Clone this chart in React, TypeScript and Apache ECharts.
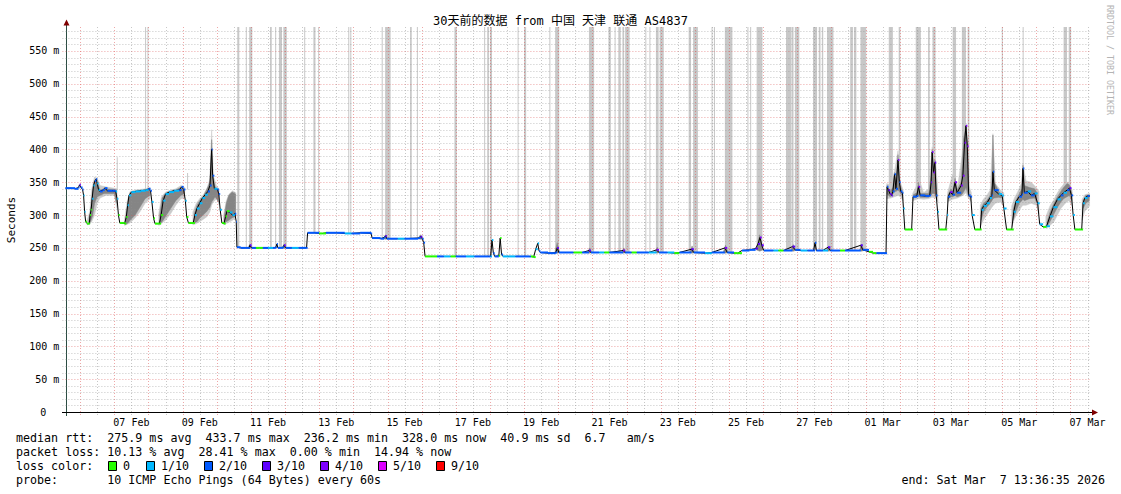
import { useEffect, useRef } from 'react';
import * as echarts from 'echarts';

// time unit: days since 2026-02-05 00:00 (local); graph covers 30 days ending Mar 7 13:36:35
const START = 13.6097 / 24;
const END = START + 30;
const Y_MAX = 586.5;

const titleText = '30天前的数据 from 中国 天津 联通 AS4837';
const yTitle = 'Seconds';
const watermark = 'RRDTOOL / TOBI OETIKER';

const xTickLabels = ['07 Feb', '09 Feb', '11 Feb', '13 Feb', '15 Feb', '17 Feb', '19 Feb', '21 Feb', '23 Feb', '25 Feb', '27 Feb', '01 Mar', '03 Mar', '05 Mar', '07 Mar'];
const xTickDays = [2.5, 4.5, 6.5, 8.5, 10.5, 12.5, 14.5, 16.5, 18.5, 20.5, 22.5, 24.5, 26.5, 28.5, 30.5];

const lossColors = ['#26ff00', '#00b8ff', '#0059ff', '#5e00ff', '#7e00ff', '#dd00ff', '#ff0000'];
const lossLabels = ['0', '1/10', '2/10', '3/10', '4/10', '5/10', '9/10'];

// [day, median rtt (ms), loss colour index]
const medianRtt = [
  [0.57, 341, 2], [0.70, 341, 2], [0.85, 340, 2], [0.95, 342, 2], [0.98, 346, 3], [1.02, 342, 2], [1.07, 339, 2], [1.10, 330, 1], [1.13, 305, 1], [1.16, 290, 0], [1.20, 287, 0], [1.27, 287, 0], [1.29, 300, 0], [1.32, 308, 0], [1.35, 325, 1], [1.39, 345, 1], [1.43, 352, 2], [1.47, 355, 2], [1.50, 348, 1], [1.54, 338, 1], [1.58, 336, 2], [1.66, 338, 2], [1.72, 341, 2], [1.80, 337, 2], [1.95, 337, 2],
  [2.04, 336, 1], [2.08, 325, 1], [2.12, 300, 0], [2.16, 288, 0], [2.30, 287, 0], [2.35, 297, 0], [2.39, 315, 1], [2.43, 330, 1], [2.50, 335, 1], [2.62, 336, 1], [2.78, 337, 1], [2.92, 338, 1], [3.00, 340, 2], [3.06, 337, 2], [3.10, 320, 1], [3.15, 295, 0], [3.19, 287, 0], [3.32, 287, 0], [3.37, 300, 0], [3.43, 322, 1], [3.50, 332, 1], [3.60, 335, 1], [3.75, 337, 1], [3.90, 338, 2], [3.97, 343, 2],
  [4.03, 339, 2], [4.08, 322, 1], [4.12, 297, 0], [4.17, 288, 0], [4.31, 288, 0], [4.36, 300, 1], [4.42, 310, 1], [4.50, 318, 1], [4.58, 326, 1], [4.66, 331, 1], [4.74, 336, 2], [4.80, 345, 2], [4.85, 400, 2], [4.88, 360, 2], [4.93, 340, 1], [5.02, 339, 2], [5.06, 332, 2], [5.10, 308, 1], [5.15, 288, 0], [5.21, 287, 0], [5.26, 298, 0], [5.30, 306, 0], [5.38, 304, 1], [5.46, 300, 1], [5.53, 302, 2], [5.57, 290, 2], [5.59, 251, 2],
  [5.70, 250, 2], [5.85, 250, 2], [5.94, 250, 2], [5.97, 254, 3], [6.02, 250, 2], [6.15, 250, 0], [6.25, 250, 0], [6.35, 250, 2], [6.50, 250, 1], [6.65, 250, 2], [6.73, 251, 2], [6.76, 256, 2], [6.79, 250, 2], [6.94, 251, 2], [6.97, 254, 3], [7.02, 250, 2], [7.20, 250, 1], [7.40, 250, 2], [7.63, 250, 2],
  [7.66, 273, 2], [7.85, 273, 2], [8.00, 272, 0], [8.10, 272, 0], [8.20, 273, 2], [8.50, 273, 2], [8.75, 272, 1], [8.95, 272, 2], [9.20, 273, 2], [9.52, 272, 2],
  [9.55, 265, 2], [9.80, 264, 2], [9.90, 266, 2], [9.94, 268, 3], [9.98, 264, 2], [10.30, 264, 1], [10.50, 264, 2], [10.90, 265, 2], [10.97, 267, 3], [11.02, 264, 2], [11.06, 258, 2],
  [11.10, 237, 0], [11.30, 237, 0], [11.45, 237, 2], [11.65, 237, 1], [11.85, 237, 0], [12.00, 237, 2], [12.30, 237, 1], [12.55, 237, 2], [12.95, 237, 2], [13.02, 237, 1], [13.06, 262, 1], [13.10, 242, 2], [13.14, 237, 2], [13.26, 238, 0], [13.30, 265, 0], [13.34, 240, 2], [13.38, 237, 1], [13.55, 237, 1], [13.75, 237, 2], [14.15, 237, 2], [14.20, 237, 0], [14.28, 236, 0], [14.34, 248, 1], [14.40, 257, 1], [14.44, 245, 2],
  [14.48, 243, 2], [14.70, 242, 2], [14.93, 243, 2], [14.97, 250, 3], [15.02, 243, 2], [15.20, 243, 2], [15.45, 243, 0], [15.55, 243, 0], [15.70, 243, 2], [15.90, 246, 3], [15.96, 243, 2], [16.20, 243, 1], [16.35, 243, 0], [16.50, 243, 2], [16.90, 246, 4], [16.96, 243, 2], [17.15, 243, 0], [17.30, 243, 2], [17.65, 243, 1], [17.88, 247, 4], [17.95, 243, 2], [18.20, 243, 1], [18.40, 242, 0], [18.55, 243, 2], [18.90, 248, 3], [18.97, 243, 2], [19.30, 242, 1], [19.50, 243, 2], [19.88, 250, 4], [19.95, 243, 2], [20.15, 242, 0], [20.25, 242, 0],
  [20.38, 246, 2], [20.60, 247, 2], [20.78, 249, 3], [20.85, 256, 3], [20.91, 266, 4], [20.96, 254, 3], [21.02, 246, 2], [21.30, 246, 1], [21.45, 246, 0], [21.60, 246, 2], [21.86, 252, 3], [21.94, 247, 2], [22.10, 246, 1], [22.30, 246, 2], [22.48, 246, 2], [22.52, 258, 2], [22.56, 246, 2], [22.75, 246, 1], [22.90, 251, 3], [22.97, 246, 2], [23.25, 246, 0], [23.40, 246, 2], [23.86, 254, 3], [23.92, 247, 2], [24.10, 244, 0], [24.22, 242, 0], [24.32, 242, 2], [24.60, 242, 2],
  [24.63, 343, 2], [24.67, 338, 3], [24.72, 332, 4], [24.76, 330, 3], [24.80, 336, 2], [24.85, 362, 2], [24.89, 340, 2], [24.95, 384, 4], [24.99, 350, 2], [25.03, 336, 2], [25.08, 334, 2], [25.11, 310, 1], [25.15, 278, 0], [25.35, 278, 0], [25.39, 328, 2], [25.50, 329, 2], [25.55, 343, 4], [25.60, 330, 2], [25.75, 329, 2], [25.88, 330, 2], [25.92, 350, 3], [25.95, 396, 4], [25.99, 365, 4], [26.03, 380, 3], [26.07, 330, 2], [26.11, 305, 1], [26.15, 278, 0], [26.35, 278, 0],
  [26.39, 300, 1], [26.42, 328, 2], [26.48, 335, 4], [26.55, 331, 2], [26.62, 350, 4], [26.68, 334, 2], [26.80, 345, 4], [26.85, 360, 4], [26.90, 410, 4], [26.94, 436, 4], [26.98, 405, 4], [27.02, 330, 2], [27.08, 328, 2], [27.12, 300, 1], [27.20, 278, 0], [27.36, 278, 0], [27.40, 308, 1], [27.46, 314, 1], [27.55, 318, 1], [27.64, 326, 1], [27.70, 330, 2], [27.73, 366, 2], [27.77, 338, 2], [27.90, 332, 1], [28.00, 330, 1], [28.05, 310, 1], [28.13, 278, 0], [28.28, 278, 0],
  [28.34, 305, 1], [28.40, 320, 1], [28.50, 328, 2], [28.58, 331, 2], [28.61, 371, 2], [28.65, 334, 2], [28.75, 336, 1], [28.85, 330, 2], [28.95, 333, 1], [29.04, 318, 1], [29.10, 286, 1], [29.20, 282, 0], [29.30, 283, 1], [29.40, 298, 1], [29.50, 312, 1], [29.62, 324, 1], [29.72, 330, 2], [29.80, 334, 1], [29.90, 338, 2], [29.97, 341, 3], [30.03, 330, 2], [30.08, 300, 1], [30.13, 278, 0], [30.33, 278, 0], [30.37, 318, 1], [30.42, 326, 1], [30.50, 329, 2], [30.565, 329, 2],
];

// grey columns: pings far above the median (off scale) -> [dayFrom, dayTo, lowMs, highMs]
const lossBars = [
  [2.07, 2.10, 338, 388], [2.90, 2.93, 338, 600], [2.97, 3.00, 338, 600], [4.13, 4.16, 339, 364],
  [5.60, 5.66, 250, 600], [5.85, 5.88, 250, 600], [5.95, 6.04, 250, 600], [6.56, 6.61, 250, 600], [6.71, 6.73, 250, 600], [6.82, 6.91, 250, 600], [6.95, 7.05, 250, 600], [7.56, 7.59, 250, 600],
  [7.83, 7.89, 273, 600], [7.97, 8.00, 273, 600], [8.85, 8.88, 273, 600], [8.91, 8.94, 273, 600],
  [9.83, 9.86, 264, 600], [9.93, 10.09, 264, 600], [10.66, 10.71, 264, 600], [10.86, 10.88, 264, 600],
  [11.96, 12.03, 237, 600], [12.83, 12.86, 237, 600], [12.92, 12.97, 237, 600], [13.00, 13.06, 237, 600], [13.81, 13.84, 237, 600], [14.00, 14.06, 237, 600],
  [14.74, 14.77, 243, 600], [14.91, 15.03, 243, 600], [15.90, 16.05, 243, 600], [16.47, 16.54, 243, 600], [16.65, 16.68, 243, 600], [16.76, 16.83, 243, 600], [16.88, 16.93, 243, 600], [16.96, 17.09, 243, 600],
  [17.55, 17.58, 243, 600], [17.67, 17.70, 243, 600], [17.86, 17.94, 243, 600], [17.97, 18.09, 243, 600], [18.82, 18.89, 243, 600], [18.95, 19.09, 243, 600], [19.49, 19.52, 243, 600], [19.56, 19.59, 243, 600], [19.88, 20.10, 243, 600],
  [20.54, 20.57, 246, 600], [20.62, 20.65, 246, 600], [20.81, 20.98, 247, 600], [21.67, 21.82, 246, 600], [21.83, 21.89, 246, 600], [21.93, 22.06, 246, 600], [22.46, 22.58, 246, 600], [22.63, 22.68, 246, 600], [22.72, 22.76, 246, 600], [22.87, 23.06, 246, 600],
  [23.55, 23.63, 246, 600], [23.66, 23.73, 246, 600], [23.85, 24.02, 246, 600],
  [24.68, 24.80, 335, 600], [24.97, 25.02, 340, 600], [25.47, 25.62, 330, 600], [25.83, 25.88, 330, 600], [25.96, 26.05, 330, 600], [26.55, 26.65, 332, 600], [26.82, 26.94, 335, 600], [26.99, 27.04, 330, 600],
  [27.99, 28.02, 332, 600], [28.60, 28.63, 335, 600], [29.80, 29.90, 336, 600], [29.95, 30.02, 340, 600],
];

// smoke (spread of the 10 pings) as runs of [day, lowMs, highMs]
const smokeLight = [
  [[1.20, 285, 292], [1.28, 286, 305], [1.34, 290, 340], [1.42, 300, 358], [1.50, 318, 356], [1.58, 326, 345], [1.75, 330, 343], [2.00, 330, 341], [2.08, 310, 340]],
  [[2.30, 284, 295], [2.38, 286, 322], [2.46, 288, 336], [2.60, 295, 338], [2.75, 305, 339], [2.90, 318, 340], [3.05, 325, 342]],
  [[3.30, 284, 302], [3.38, 287, 328], [3.50, 292, 335], [3.65, 302, 338], [3.80, 315, 340], [3.95, 325, 345], [4.06, 326, 342]],
  [[4.30, 285, 305], [4.40, 287, 318], [4.50, 290, 325], [4.62, 294, 332], [4.72, 298, 342], [4.80, 305, 355], [4.85, 315, 430], [4.90, 320, 360], [5.00, 325, 343], [5.07, 315, 340]],
  [[5.20, 285, 300], [5.28, 287, 322], [5.36, 289, 332], [5.46, 292, 337], [5.56, 296, 334]],
  [[24.62, 325, 348], [24.75, 326, 345], [24.85, 328, 368], [24.95, 330, 398], [25.02, 328, 350], [25.10, 322, 338]],
  [[25.38, 322, 333], [25.50, 324, 345], [25.56, 325, 356], [25.70, 324, 334], [25.85, 325, 340], [25.95, 327, 404], [26.05, 326, 384], [26.12, 320, 336]],
  [[26.40, 320, 334], [26.55, 324, 362], [26.70, 326, 345], [26.85, 330, 400], [26.94, 334, 440], [27.02, 325, 345], [27.10, 320, 334]],
  [[27.36, 282, 315], [27.45, 292, 324], [27.55, 300, 330], [27.65, 308, 338], [27.73, 314, 424], [27.80, 318, 348], [27.95, 320, 338], [28.05, 312, 334]],
  [[28.28, 282, 314], [28.36, 294, 326], [28.46, 304, 336], [28.56, 312, 348], [28.61, 315, 378], [28.70, 315, 352], [28.85, 318, 350], [29.00, 315, 342], [29.08, 302, 336]],
  [[29.28, 280, 298], [29.40, 284, 314], [29.52, 290, 324], [29.62, 300, 334], [29.72, 310, 342], [29.85, 318, 350], [29.95, 322, 350], [30.05, 314, 338]],
  [[30.34, 292, 324], [30.42, 306, 331], [30.56, 314, 333]],
];

const smokeDark = [
  [[1.25, 287, 290], [1.30, 290, 305], [1.36, 298, 335], [1.42, 318, 352], [1.50, 328, 350], [1.58, 330, 338], [1.70, 333, 340], [2.00, 333, 339], [2.06, 318, 338]],
  [[2.33, 286, 292], [2.40, 288, 318], [2.46, 292, 334], [2.61, 300, 336], [2.75, 312, 337], [2.90, 325, 338], [3.04, 330, 339]],
  [[3.33, 287, 300], [3.40, 290, 326], [3.50, 298, 333], [3.65, 310, 336], [3.80, 322, 338], [3.95, 330, 342], [4.05, 333, 339]],
  [[4.34, 288, 302], [4.42, 290, 315], [4.50, 295, 322], [4.60, 300, 328], [4.70, 305, 338], [4.80, 312, 350], [4.85, 320, 415], [4.88, 322, 360], [4.95, 328, 343], [5.05, 320, 338]],
  [[5.22, 287, 298], [5.28, 290, 318], [5.35, 292, 330], [5.45, 296, 335], [5.55, 298, 332]],
  [[5.92, 250, 250], [5.97, 249, 256], [6.02, 250, 250]],
  [[6.92, 250, 250], [6.97, 249, 256], [7.02, 250, 250]],
  [[9.88, 264, 264], [9.94, 263, 270], [10.00, 264, 264]],
  [[10.90, 264, 265], [10.97, 263, 270], [11.02, 263, 266]],
  [[14.90, 243, 243], [14.97, 242, 258], [15.04, 243, 243]],
  [[15.86, 243, 243], [15.92, 242, 250], [15.98, 243, 243]],
  [[16.86, 243, 243], [16.92, 242, 250], [16.98, 243, 243]],
  [[17.84, 243, 243], [17.90, 242, 251], [17.96, 243, 243]],
  [[18.85, 243, 243], [18.92, 242, 253], [18.99, 243, 243]],
  [[19.83, 243, 243], [19.90, 242, 254], [19.97, 243, 243]],
  [[20.80, 247, 247], [20.90, 245, 270], [21.00, 247, 247]],
  [[21.82, 246, 246], [21.88, 245, 255], [21.95, 246, 246]],
  [[22.86, 246, 246], [22.92, 245, 253], [22.98, 246, 246]],
  [[23.82, 246, 246], [23.88, 245, 256], [23.95, 246, 246]],
  [[24.63, 332, 345], [24.72, 328, 336], [24.80, 332, 342], [24.85, 336, 365], [24.89, 336, 345], [24.95, 338, 392], [24.99, 336, 352], [25.06, 330, 337]],
  [[25.40, 326, 331], [25.50, 327, 334], [25.55, 330, 350], [25.60, 327, 333], [25.85, 327, 333], [25.92, 330, 360], [25.95, 333, 400], [25.99, 333, 372], [26.03, 332, 384], [26.08, 326, 334]],
  [[26.42, 325, 331], [26.50, 328, 340], [26.55, 328, 336], [26.62, 330, 356], [26.68, 328, 338], [26.80, 330, 350], [26.87, 335, 415], [26.94, 342, 437], [26.98, 335, 410], [27.03, 327, 334]],
  [[27.38, 292, 310], [27.46, 305, 318], [27.55, 312, 322], [27.65, 318, 330], [27.70, 322, 345], [27.73, 325, 422], [27.77, 326, 350], [27.90, 327, 336], [27.98, 326, 332]],
  [[28.32, 292, 308], [28.40, 305, 322], [28.50, 318, 332], [28.58, 322, 340], [28.61, 324, 376], [28.65, 322, 345], [28.80, 325, 342], [28.95, 326, 340], [29.02, 318, 334]],
  [[29.32, 283, 290], [29.40, 290, 304], [29.50, 300, 316], [29.62, 312, 328], [29.72, 320, 336], [29.80, 325, 342], [29.90, 328, 348], [29.97, 330, 346], [30.04, 322, 334]],
  [[30.37, 310, 322], [30.45, 318, 330], [30.55, 322, 331]],
];

const legendRows = [
  'median rtt:  275.9 ms avg  433.7 ms max  236.2 ms min  328.0 ms now  40.9 ms sd  6.7   am/s',
  'packet loss: 10.13 % avg  28.41 % max  0.00 % min  14.94 % now',
  'loss color:',
  'probe:       10 ICMP Echo Pings (64 Bytes) every 60s',
];
const endText = 'end: Sat Mar  7 13:36:35 2026';

const MONO = "'DejaVu Sans Mono', monospace";
const TITLE_FONT = "'DejaVu Sans Mono', 'Noto Sans CJK SC', monospace";
const LEG_SIZE = 11.66;
const CW = LEG_SIZE * 0.602;

function monoWords(str: string, x0: number, y: number) {
  const out: any[] = [];
  const re = /\S+/g;
  let m: RegExpExecArray | null;
  while ((m = re.exec(str))) {
    out.push({
      type: 'text', x: x0 + m.index * CW, y, silent: true,
      style: { text: m[0], fill: '#000', fontSize: LEG_SIZE, fontFamily: MONO, verticalAlign: 'middle', align: 'left' },
    });
  }
  return out;
}

export default function App() {
  const ref = useRef<HTMLDivElement>(null);
  useEffect(() => {
    if (!ref.current) return;
    const chart = echarts.init(ref.current, undefined, { renderer: 'svg' });

    // grid line items: [value, orientation(0 = vertical, 1 = horizontal), major]
    const gridItems: number[][] = [];
    for (let d = 0; d <= 31; d += 0.5) {
      if (d > START && d < END) gridItems.push([d, 0, Number.isInteger(d) ? 1 : 0]);
    }
    for (let v = 10; v < Y_MAX; v += 10) gridItems.push([v, 1, v % 50 === 0 ? 1 : 0]);

    const segs = medianRtt.slice(0, -1).map((p, i) => [p[0], p[1], p[2], medianRtt[i + 1][0]]);

    const polySeries = (runs: number[][][], fill: string, z: number) => ({
      type: 'custom', z, silent: true, clip: true,
      data: runs.map((r, i) => [r[0][0], r[0][1], i]),
      renderItem: (params: any, api: any) => {
        const run = runs[api.value(2)];
        const up = run.map((p) => api.coord([p[0], p[2]]));
        const lo = run.slice().reverse().map((p) => api.coord([p[0], p[1]]));
        return { type: 'polygon', shape: { points: up.concat(lo) }, style: { fill, stroke: fill, lineWidth: 0.5 } };
      },
    });

    const swatchX = [108, 146, 204, 262, 320, 378, 436];
    const graphics: any[] = [
      { type: 'text', x: 560.5, y: 21, silent: true, style: { text: titleText, fontSize: 12, fontFamily: TITLE_FONT, fill: '#000', align: 'center', verticalAlign: 'middle' } },
      { type: 'text', x: 11, y: 220, rotation: Math.PI / 2, silent: true, style: { text: yTitle, fontSize: 11, fontFamily: MONO, fill: '#000', align: 'center', verticalAlign: 'middle' } },
      { type: 'text', x: 1110, y: 60, rotation: -Math.PI / 2, silent: true, style: { text: watermark, fontSize: 8.3, fontFamily: MONO, fill: '#b4b4b4', align: 'center', verticalAlign: 'middle' } },
      { type: 'line', silent: true, shape: { x1: 66.5, y1: 416, x2: 66.5, y2: 24 }, style: { stroke: '#2c4d43', lineWidth: 1 } },
      { type: 'polygon', silent: true, shape: { points: [[63.5, 25.5], [69.5, 25.5], [66.5, 19.5]] }, style: { fill: '#7f0000' } },
      { type: 'line', silent: true, shape: { x1: 62, y1: 412.5, x2: 1093, y2: 412.5 }, style: { stroke: '#000', lineWidth: 1 } },
      { type: 'polygon', silent: true, shape: { points: [[1092, 409.5], [1092, 415.5], [1098, 412.5]] }, style: { fill: '#7f0000' } },
      ...monoWords(legendRows[0], 16, 438),
      ...monoWords(legendRows[1], 16, 452),
      ...monoWords(legendRows[2], 16, 466),
      ...monoWords(legendRows[3], 16, 480),
      ...monoWords(endText, 1105 - endText.length * CW, 480),
    ];
    lossColors.forEach((c, i) => {
      graphics.push({ type: 'rect', silent: true, shape: { x: swatchX[i] + 0.5, y: 461.5, width: 8, height: 9 }, style: { fill: c, stroke: '#000', lineWidth: 1 } });
      graphics.push({ type: 'text', silent: true, x: swatchX[i] + 15, y: 466, style: { text: lossLabels[i], fill: '#000', fontSize: LEG_SIZE, fontFamily: MONO, verticalAlign: 'middle' } });
    });

    chart.setOption({
      animation: false,
      backgroundColor: '#ffffff',
      grid: { left: 65.4, top: 27, width: 1024.4, height: 385 },
      xAxis: {
        type: 'value', min: START, max: END,
        axisLine: { show: false }, axisTick: { show: false }, splitLine: { show: false },
        axisLabel: {
          customValues: xTickDays,
          formatter: (v: number) => xTickLabels[Math.round((v - 2.5) / 2)] ?? '',
          color: '#000', fontSize: 10, fontFamily: MONO, margin: 5,
        },
      },
      yAxis: {
        type: 'value', min: 0, max: Y_MAX, interval: 50,
        axisLine: { show: false }, axisTick: { show: false }, splitLine: { show: false },
        axisLabel: {
          showMaxLabel: false,
          formatter: (v: number) => (v === 0 ? '{z|0}' : `${v} m`),
          color: '#000', fontSize: 10, fontFamily: MONO, margin: 6,
          rich: { z: { padding: [0, 13, 0, 0], fontSize: 10, fontFamily: MONO, color: '#000' } },
        },
      },
      graphic: graphics,
      series: [
        {
          type: 'custom', z: 1, silent: true,
          data: lossBars,
          renderItem: (params: any, api: any) => {
            const cs = params.coordSys;
            const a = api.coord([api.value(0), api.value(3)]);
            const b = api.coord([api.value(1), api.value(2)]);
            const top = Math.max(a[1], cs.y);
            return { type: 'rect', shape: { x: a[0], y: top, width: Math.max(1, b[0] - a[0]), height: b[1] - top }, style: { fill: '#c8c8c8' } };
          },
        },
        polySeries(smokeLight, '#cacaca', 2),
        polySeries(smokeDark, '#858585', 3),
        {
          type: 'custom', z: 4, silent: true,
          data: gridItems,
          renderItem: (params: any, api: any) => {
            const cs = params.coordSys;
            const major = api.value(2) === 1;
            const stroke = major ? 'rgba(222,80,80,0.5)' : 'rgba(143,143,143,0.5)';
            if (api.value(1) === 0) {
              const x = Math.round(api.coord([api.value(0), 0])[0]) + 0.5;
              return { type: 'line', shape: { x1: x, y1: cs.y, x2: x, y2: cs.y + cs.height + 3 }, style: { stroke, lineWidth: 1, lineDash: [1, 2] } };
            }
            const y = Math.round(api.coord([START, api.value(0)])[1]) + 0.5;
            return { type: 'line', shape: { x1: cs.x - 3, y1: y, x2: cs.x + cs.width, y2: y }, style: { stroke, lineWidth: 1, lineDash: [1, 2] } };
          },
        },
        {
          type: 'line', z: 5, silent: true, showSymbol: false,
          data: medianRtt.map((p) => [p[0], p[1]]),
          lineStyle: { color: '#000', width: 1 },
        },
        {
          type: 'custom', z: 6, silent: true,
          data: segs,
          renderItem: (params: any, api: any) => {
            const a = api.coord([api.value(0), api.value(1)]);
            const b = api.coord([api.value(3), api.value(1)]);
            return { type: 'line', shape: { x1: a[0], y1: a[1], x2: b[0], y2: b[1] }, style: { stroke: lossColors[api.value(2)], lineWidth: 2 } };
          },
        },
      ],
    });
    return () => chart.dispose();
  }, []);
  return <div ref={ref} style={{ position: 'fixed', left: 0, top: 0, width: 1121, height: 494, background: '#fff' }} />;
}
